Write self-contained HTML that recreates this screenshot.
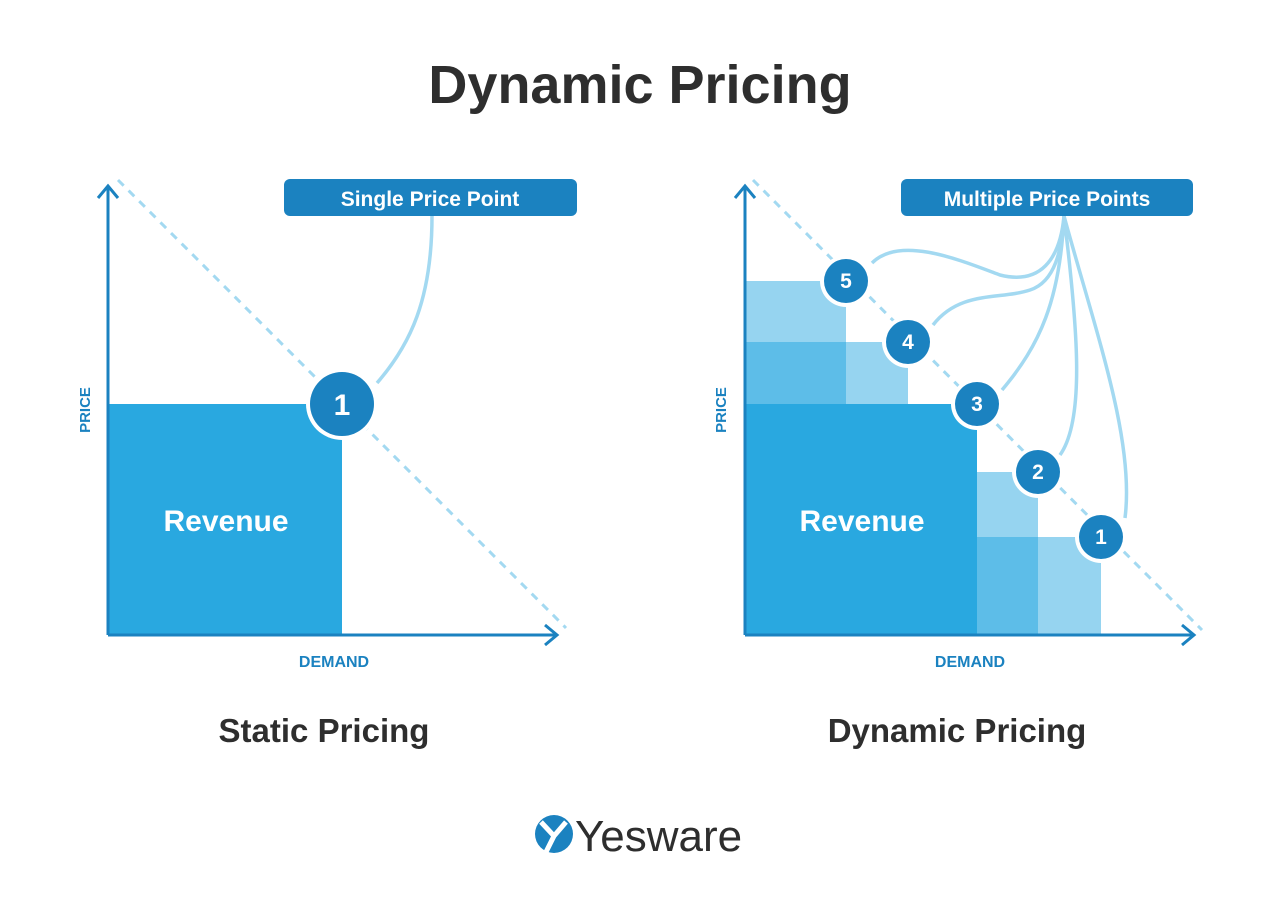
<!DOCTYPE html>
<html><head><meta charset="utf-8"><style>
body{margin:0;background:#fff;}
svg text{font-family:"Liberation Sans",sans-serif;font-weight:bold;}
</style></head><body>
<svg width="1280" height="902" viewBox="0 0 1280 902" xmlns="http://www.w3.org/2000/svg">
<text x="640" y="103" text-anchor="middle" font-size="54" fill="#2e2e2e">Dynamic Pricing</text>

<!-- LEFT -->
<rect x="108" y="404" width="234" height="231" fill="#29a8e0"/>
<line x1="118" y1="180" x2="566" y2="628" stroke="#a3d9f1" stroke-width="3" stroke-dasharray="8,7"/>
<path d="M108 635 V186 M98 198 L108 186 L118 198" stroke="#1b82c0" stroke-width="3" fill="none"/>
<path d="M108 635 H557 M545 625 L557 635 L545 645" stroke="#1b82c0" stroke-width="3" fill="none"/>
<text x="90" y="410" font-size="15" fill="#1b82c0" text-anchor="middle" transform="rotate(-90 90 410)">PRICE</text>
<text x="334" y="667" font-size="16" fill="#1b82c0" text-anchor="middle">DEMAND</text>
<text x="226" y="531" font-size="30" fill="#fff" text-anchor="middle">Revenue</text>
<path d="M432 216 C432 300 410 345 377 383" stroke="#a3d9f1" stroke-width="3.5" fill="none"/>
<circle cx="342" cy="404" r="36" fill="#fff"/>
<circle cx="342" cy="404" r="32" fill="#1b82c0"/>
<text x="342" y="415" font-size="30" fill="#fff" text-anchor="middle">1</text>
<rect x="284" y="179" width="293" height="37" rx="6" fill="#1b82c0"/>
<text x="430" y="206" font-size="21" fill="#fff" text-anchor="middle">Single Price Point</text>
<text x="324" y="742" font-size="33" fill="#2e2e2e" text-anchor="middle">Static Pricing</text>

<!-- RIGHT -->
<rect x="745" y="281" width="101" height="61" fill="#96d4f0"/>
<rect x="745" y="342" width="101" height="62" fill="#5dbde8"/>
<rect x="846" y="342" width="62" height="62" fill="#96d4f0"/>
<rect x="745" y="404" width="232" height="231" fill="#29a8e0"/>
<rect x="977" y="472" width="61" height="65" fill="#96d4f0"/>
<rect x="977" y="537" width="61" height="98" fill="#5dbde8"/>
<rect x="1038" y="537" width="63" height="98" fill="#96d4f0"/>
<line x1="753" y1="180" x2="1202" y2="630" stroke="#a3d9f1" stroke-width="3" stroke-dasharray="8,7"/>
<path d="M745 635 V186 M735 198 L745 186 L755 198" stroke="#1b82c0" stroke-width="3" fill="none"/>
<path d="M745 635 H1194 M1182 625 L1194 635 L1182 645" stroke="#1b82c0" stroke-width="3" fill="none"/>
<text x="726" y="410" font-size="15" fill="#1b82c0" text-anchor="middle" transform="rotate(-90 726 410)">PRICE</text>
<text x="970" y="667" font-size="16" fill="#1b82c0" text-anchor="middle">DEMAND</text>
<text x="862" y="531" font-size="30" fill="#fff" text-anchor="middle">Revenue</text>
<g stroke="#a3d9f1" stroke-width="3.5" fill="none">
<path d="M872 263 C900 235 960 260 1000 275 C1040 285 1060 260 1064 216"/>
<path d="M933 325 C960 290 1000 300 1030 290 C1055 282 1062 250 1064 216"/>
<path d="M1002 390 C1040 345 1060 300 1064 216"/>
<path d="M1060 455 C1085 420 1078 330 1064 216"/>
<path d="M1125 518 C1135 440 1095 330 1064 216"/>
</g>
<g font-size="21" fill="#fff" text-anchor="middle">
<circle cx="846" cy="281" r="26" fill="#fff"/><circle cx="846" cy="281" r="22" fill="#1b82c0"/><text x="846" y="288">5</text>
<circle cx="908" cy="342" r="26" fill="#fff"/><circle cx="908" cy="342" r="22" fill="#1b82c0"/><text x="908" y="349">4</text>
<circle cx="977" cy="404" r="26" fill="#fff"/><circle cx="977" cy="404" r="22" fill="#1b82c0"/><text x="977" y="411">3</text>
<circle cx="1038" cy="472" r="26" fill="#fff"/><circle cx="1038" cy="472" r="22" fill="#1b82c0"/><text x="1038" y="479">2</text>
<circle cx="1101" cy="537" r="26" fill="#fff"/><circle cx="1101" cy="537" r="22" fill="#1b82c0"/><text x="1101" y="544">1</text>
</g>
<rect x="901" y="179" width="292" height="37" rx="6" fill="#1b82c0"/>
<text x="1047" y="206" font-size="21" fill="#fff" text-anchor="middle">Multiple Price Points</text>
<text x="957" y="742" font-size="33" fill="#2e2e2e" text-anchor="middle">Dynamic Pricing</text>

<!-- logo -->
<circle cx="554" cy="834" r="19" fill="#1b82c0"/>
<path d="M541 822 L554 836 L566 822 M554 836 L546 852" stroke="#fff" stroke-width="5" fill="none"/>
<text x="575" y="851" font-size="44" fill="#2e2e2e" style="font-weight:normal">Yesware</text>
</svg>
</body></html>
